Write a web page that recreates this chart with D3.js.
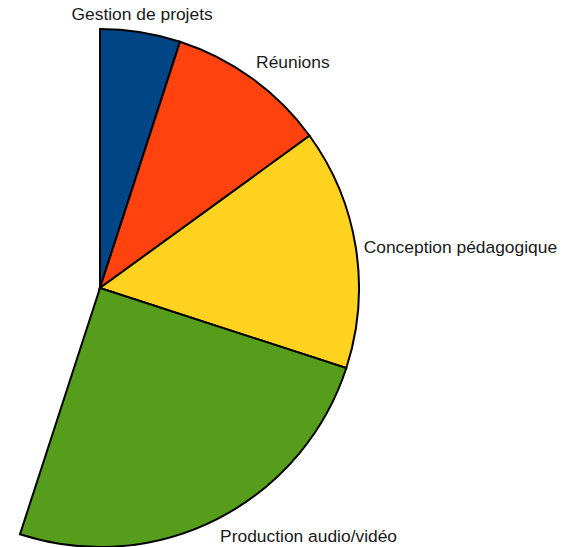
<!DOCTYPE html>
<html lang="fr">
<head>
<meta charset="UTF-8">
<title>Répartition</title>
<script src="https://d3js.org/d3.v7.min.js"></script>
<style>
  body { margin: 0; background: #fff; }
  .label { font-family: "Liberation Sans", Arial, sans-serif; font-size: 17.4px; fill: #1a1a1a; }
</style>
</head>
<body>
<div id="chart"></div>
<script>
// share of time, in percent of the whole (the rest is not drawn)
var categories = ["Gestion de projets", "Réunions", "Conception pédagogique", "Production audio/vidéo"];
var values = [5, 10, 15, 25];
var total = 100;
var colors = ["#004586", "#ff420e", "#ffd320", "#579d1c"];

var width = 579, height = 547;
var cx = 100, cy = 288, radius = 259;

var svg = d3.select("#chart").append("svg")
    .attr("width", width)
    .attr("height", height);

var g = svg.append("g")
    .attr("transform", "translate(" + cx + "," + cy + ")");

var pie = d3.pie()
    .sort(null)
    .startAngle(0)
    .endAngle(2 * Math.PI * d3.sum(values) / total);

var arc = d3.arc().innerRadius(0).outerRadius(radius);

var slices = pie(values);

g.selectAll("path.slice")
    .data(slices)
  .enter().append("path")
    .attr("class", "slice")
    .attr("d", arc)
    .style("fill", function(d, i) { return colors[i]; })
    .style("stroke", "#000")
    .style("stroke-width", 2)
    .style("stroke-linejoin", "miter");

// labels outside the arc, aligned by the direction of the slice middle
var labelR = radius + 10;
g.selectAll("text.label")
    .data(slices)
  .enter().append("text")
    .attr("class", "label")
    .text(function(d, i) { return categories[i]; })
    .each(function(d) {
      var a = (d.startAngle + d.endAngle) / 2;
      var s = Math.sin(a), c = Math.cos(a);
      var px = labelR * s, py = -labelR * c;
      var anchor;
      if (Math.abs(s) < 0.3) anchor = "middle";
      else if (s > 0) anchor = "start";
      else anchor = "end";
      var x = anchor == "start" ? px - 2 : px;
      var y;
      if (c > 0.5) y = py - 2;            // sits above the point
      else if (c < -0.5) y = py + 14.5;   // hangs below the point
      else y = py + 7;                     // centred on the point
      d3.select(this).attr("x", x).attr("y", y).attr("text-anchor", anchor);
    });
</script>
</body>
</html>
